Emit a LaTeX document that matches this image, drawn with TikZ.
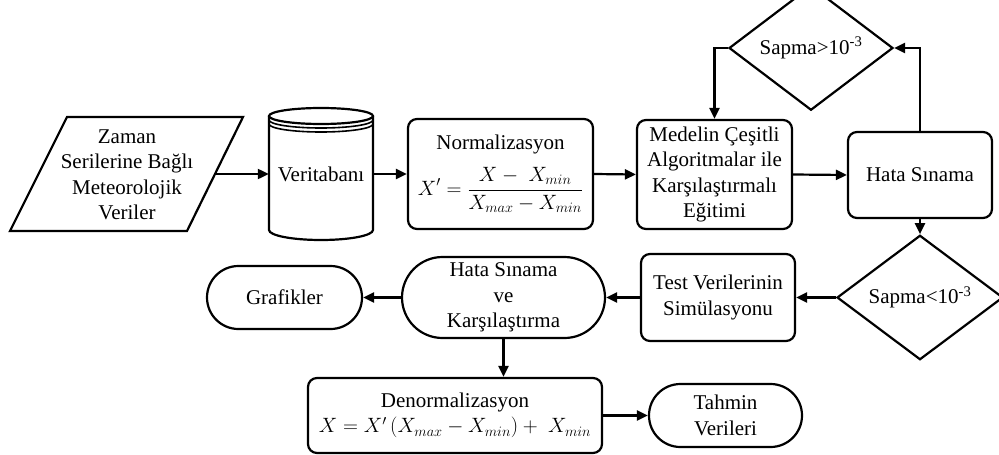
\documentclass[tikz,border=0pt]{standalone}
\usepackage{fontspec}
\setmainfont{Liberation Serif}
\usetikzlibrary{shapes.geometric,shapes.misc,arrows.meta}
\begin{document}
\begin{tikzpicture}[x=1pt,y=-1pt,
  every node/.style={font=\fontsize{21}{25.5}\selectfont},
  line/.style={line width=2.2pt},
  arr/.style={line width=2.2pt,-{Triangle[length=11pt,width=10pt]}},
  rbox/.style={draw,line width=2.2pt,rounded corners=9pt,inner sep=0pt,align=center},
  stad/.style={draw,line width=2.2pt,rounded rectangle,inner sep=0pt,align=center},
  dia/.style={draw,line width=2.2pt,diamond,inner sep=0pt,align=center},
]
\useasboundingbox (0,0) rectangle (999,455);

% source parallelogram
\draw[line,line join=miter] (67,117) -- (243,117) -- (187,231) -- (10,231) -- cycle;
\node[align=center] (src) at (127,175) {Zaman\\Serilerine Bağlı\\Meteorolojik\\Veriler};
\coordinate (srcE) at (215,174);

% database cylinder
\node[minimum width=104pt,minimum height=132pt,inner sep=0pt] (db) at (321,174) {Veritabanı};
\draw[line] (269,116) -- (269,230) arc[start angle=180,end angle=360,x radius=52pt,y radius=10pt] -- (373,116);
\draw[line] (321,116) ellipse[x radius=52pt,y radius=8pt];
\draw[line width=1.6pt] (269,120) arc[start angle=180,end angle=360,x radius=52pt,y radius=8pt];
\draw[line width=1.6pt] (269,124) arc[start angle=180,end angle=360,x radius=52pt,y radius=8pt];

% top row
\node[rbox,minimum width=185pt,minimum height=110pt] (norm) at (500.5,174)
  {Normalizasyon\\[12pt]$\displaystyle X' = \frac{X - \;X_{min}}{X_{max} - X_{min}}$};
\node[rbox,minimum width=155pt,minimum height=109pt] (med) at (714.5,174.5)
  {Medelin Çeşitli\\Algoritmalar ile\\Karşılaştırmalı\\Eğitimi};
\node[rbox,minimum width=144pt,minimum height=86pt] (hata) at (920,175) {Hata Sınama};
\node[dia,minimum width=164pt,minimum height=86pt] (d1) at (811,48) {Sapma>10\textsuperscript{-3}};

% middle row
\node[dia,minimum width=166pt,minimum height=87pt] (d2) at (920,297.5) {Sapma<10\textsuperscript{-3}};
\node[rbox,minimum width=154pt,minimum height=87pt] (test) at (718,297.5) {Test Verilerinin\\Simülasyonu};
\node[stad,minimum width=203pt,minimum height=81pt] (hsk) at (503.5,297.5) {Hata Sınama\\ve\\Karşılaştırma};
\node[stad,minimum width=155pt,minimum height=63pt] (graf) at (284.5,297.5) {Grafikler};

% bottom row
\node[rbox,minimum width=294pt,minimum height=75pt] (den) at (455,415.5)
  {Denormalizasyon\\$X = X'\,(X_{max} - X_{min}) + \;X_{min}$};
\node[stad,minimum width=153pt,minimum height=63pt] (tah) at (725.5,415.5) {Tahmin\\Verileri};

% connectors
\draw[arr] (srcE) -- (db.west);
\draw[arr] (db.east) -- (norm.west);
\draw[arr] (norm.east) -- (med.west);
\draw[arr] (med.east) -- (hata.west);
\draw[arr] (hata.north) |- (d1.east);
\draw[arr] (d1.west) -| (med.north);
\draw[arr] (hata.south) -- (d2.north);
\draw[arr] (d2.west) -- (test.east);
\draw[arr] (test.west) -- (hsk.east);
\draw[arr] (hsk.west) -- (graf.east);
\draw[arr] (hsk.south) -- (hsk.south |- den.north);
\draw[arr] (den.east) -- (tah.west);
\end{tikzpicture}
\end{document}
